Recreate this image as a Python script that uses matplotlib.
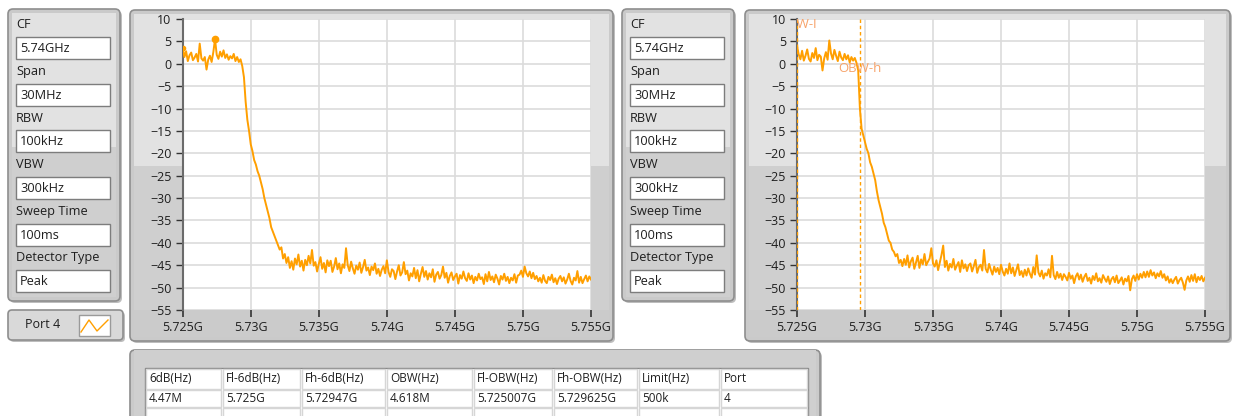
import numpy as np
import matplotlib.pyplot as plt
from matplotlib.patches import FancyBboxPatch, Rectangle

plt.rcParams['font.family'] = ['Open Sans', 'DejaVu Sans']

W, H = 1237, 416

# sweep settings
start_ghz, stop_ghz = 5.725, 5.755
obw_low, obw_high = 5.725007, 5.729625

# trace levels (dBm), one point every 0.125 MHz from 5.725G to 5.755G
port_a = [
    3.6, 1.5, 2.8, 0.6, 1.9, 2.5, 0.8, 1.4, 2.2, 0.5, 4.5, 1.2, 0.7, 1.5, -1.3, 0.9,
    1.8, 0.4, 2.6, 5.5, 2.0, 1.1, 2.7, 1.6, 3.0, 1.3, 2.1, 0.9, 1.7, 1.2, 2.2, 0.6,
    1.5, 0.4, 1.0, -0.5,
    -3.0, -8.5, -12.5, -15.0, -18.0, -19.5, -21.5, -22.5, -24.0, -25.0, -26.5, -28.0,
    -30.0, -31.5, -33.0, -34.5, -36.5, -37.5, -38.5, -39.5, -40.5, -41.5, -41.0, -43.5,
    -42.5, -44.5,
    -43.2, -45.6, -44.1, -46.0, -43.5, -44.8, -42.6, -45.3,
    -44.0, -46.2, -43.8, -45.0, -42.9, -44.6, -41.6, -45.1,
    -44.3, -46.4, -44.7, -43.2, -45.8, -44.5, -46.6, -43.9,
    -45.2, -44.0, -46.5, -45.3, -43.4, -45.9, -44.6, -46.8,
    -44.8, -45.6, -41.2, -45.0, -46.3, -44.2, -45.7, -46.9,
    -45.1, -46.0, -44.4, -46.7, -45.4, -43.8, -46.2, -45.5,
    -47.2, -45.3, -46.1, -44.6, -46.9, -45.8, -47.4, -46.0,
    -45.2, -46.8, -43.9, -46.5, -47.6, -45.9, -46.3, -48.1,
    -46.4, -45.0, -47.3, -46.6, -44.3, -47.0, -46.2, -48.4,
    -46.8, -47.5, -45.6, -47.9, -46.1, -48.6, -46.9, -45.4,
    -47.6, -46.3, -48.2, -46.8, -47.7, -45.9, -48.7, -47.1,
    -46.5, -48.0, -47.2, -45.3, -47.8, -46.7, -48.9, -47.4,
    -46.6, -48.3, -47.5, -46.9, -49.1, -47.2, -48.0, -46.4,
    -47.9, -48.5, -46.8, -48.2, -47.3, -49.0, -47.6, -48.4,
    -46.9, -48.1, -47.7, -49.2, -47.0, -48.6, -46.5, -48.3,
    -47.5, -48.8, -47.1, -48.0, -49.3, -47.4, -48.2, -46.9,
    -48.5, -47.6, -49.0, -47.8, -48.4, -47.0, -48.9, -47.3,
    -47.1, -46.2, -47.6, -45.3, -46.8, -47.5, -46.4, -47.9,
    -46.7, -48.1, -47.4, -48.6, -47.8, -48.9, -47.2, -48.5,
    -49.0, -47.6, -48.3, -47.1, -48.8, -47.9, -49.2, -48.0,
    -47.4, -48.6, -47.7, -49.1, -48.2, -46.9, -48.5, -49.3,
    -47.8, -48.4, -46.3, -48.9, -47.6, -49.0, -48.1, -47.3,
    -48.6, -47.5, -48.2,
]

port_b = [
    4.0, 2.1, 1.0, 2.9, 0.7, 1.8, 3.2, 1.1, 0.5, 2.4, 1.3, 3.5, 0.8, 2.0, 1.6, -1.5,
    1.2, 2.6, 0.9, 5.2, 2.3, 1.0, 3.1, 1.8, 0.6, 2.7, 1.4, 0.8, 2.2, 1.0, 1.9, 0.3,
    1.5, 0.7, 1.3, 0.2,
    -1.5, -10.0, -14.5, -16.0, -17.5, -19.0, -20.0, -22.0, -23.0, -24.5, -26.0, -28.5,
    -30.5, -32.0, -33.5, -35.5, -36.5, -38.0, -39.5, -40.0, -41.5, -42.0, -43.0, -42.5,
    -44.5, -43.8,
    -45.2, -43.6, -44.9, -42.8, -45.5, -44.1, -43.3, -45.8,
    -44.4, -42.9, -45.6, -43.7, -44.8, -42.5, -45.0, -44.2,
    -43.5, -41.2, -44.6, -45.3, -43.9, -46.1, -44.4, -42.7,
    -40.6, -45.4, -44.0, -46.2, -44.7, -45.5, -43.6, -46.0,
    -45.1, -44.3, -46.5, -43.9, -45.7, -44.8, -46.3, -45.0,
    -44.6, -46.4, -45.2, -43.8, -46.7, -45.4, -44.9, -46.2,
    -41.6, -45.8, -46.6, -44.7, -46.0, -47.1, -45.3, -46.5,
    -45.6, -47.0, -44.9, -46.4, -47.3, -45.8, -46.9, -44.6,
    -46.8, -45.5, -47.4, -46.1, -44.8, -47.2, -46.3, -47.6,
    -46.0, -47.3, -45.7, -46.9, -47.8, -45.4, -47.1, -42.8,
    -46.6, -47.5, -46.2, -48.0, -46.8, -47.3, -45.9, -47.7,
    -42.9, -47.2, -48.1, -46.5, -47.8, -46.9, -48.3, -47.0,
    -47.6, -48.4, -46.7, -48.0, -47.3, -49.0, -47.5, -46.8,
    -48.2, -47.1, -48.7, -47.6, -46.9, -48.5, -47.8, -49.1,
    -47.4, -48.3, -46.8, -48.6, -47.9, -48.9, -47.2, -48.0,
    -48.7, -47.5, -49.2, -48.1, -47.6, -48.8, -47.3, -49.0,
    -48.4, -47.7, -49.3, -48.0, -48.6, -47.4, -50.6, -48.1,
    -47.3, -48.5, -47.0, -48.2, -46.9, -47.8, -46.5, -47.7,
    -46.4, -47.6, -46.1, -47.3, -46.6, -47.9, -46.8, -47.5,
    -46.3, -47.8, -47.0, -48.4, -47.5, -48.9, -48.1, -49.0,
    -48.2, -47.6, -49.1, -48.3, -47.8, -48.9, -50.5, -48.4,
    -47.5, -48.7, -47.2, -48.5, -47.0, -48.8, -47.6, -48.3,
    -47.4, -48.6, -47.8,
]

x_ticks = [5.725, 5.73, 5.735, 5.74, 5.745, 5.75, 5.755]
x_labels = ['5.725G', '5.73G', '5.735G', '5.74G', '5.745G', '5.75G', '5.755G']
y_ticks = list(range(-55, 11, 5))

setting_names = ['CF', 'Span', 'RBW', 'VBW', 'Sweep Time', 'Detector Type']
setting_values = ['5.74GHz', '30MHz', '100kHz', '300kHz', '100ms', 'Peak']

table_headers = ['6dB(Hz)', 'Fl-6dB(Hz)', 'Fh-6dB(Hz)', 'OBW(Hz)', 'Fl-OBW(Hz)',
                 'Fh-OBW(Hz)', 'Limit(Hz)', 'Port']
table_values = ['4.47M', '5.725G', '5.72947G', '4.618M', '5.725007G', '5.729625G',
                '500k', '4']

trace_color = '#ff9f00'
text_color = '#1e1e1e'

fig = plt.figure(figsize=(W / 100, H / 100), dpi=100)
fig.patch.set_facecolor('white')

# background canvas in pixel coordinates
bg = fig.add_axes([0, 0, 1, 1], zorder=0)
bg.set_xlim(0, W)
bg.set_ylim(H, 0)
bg.axis('off')


def panel(x0, y0, x1, y1, split):
    bg.add_patch(FancyBboxPatch((x0 + 2, y0 + 2), x1 - x0, y1 - y0,
                                boxstyle='round,pad=0,rounding_size=5',
                                fc='#bdbdbd', ec='none'))
    bg.add_patch(FancyBboxPatch((x0, y0), x1 - x0, y1 - y0,
                                boxstyle='round,pad=0,rounding_size=5',
                                fc='#cacaca', ec='#8e8e8e', lw=1.2))
    bg.add_patch(Rectangle((x0 + 4, y0 + 4), x1 - x0 - 8, split - y0 - 4,
                           fc='#e2e2e2', ec='none'))
    bg.add_patch(Rectangle((x0 + 4, split), x1 - x0 - 8, y1 - split - 4,
                           fc='#cfcfcf', ec='none'))


def settings_box(x0, x1):
    panel(x0, 9, x1, 301, 147)
    label_y = [25, 72, 118, 165, 212, 258]
    for name, val, ly in zip(setting_names, setting_values, label_y):
        bg.text(x0 + 8, ly, name, fontsize=9.2, color=text_color, va='center')
        bg.add_patch(Rectangle((x0 + 8, ly + 12), x1 - x0 - 18, 22,
                               fc='white', ec='#7d7d7d', lw=1))
        bg.text(x0 + 12, ly + 23.5, val, fontsize=9.2, color=text_color, va='center')


def chart(x0, x1, px0, px1, levels):
    panel(x0, 10, x1, 341, 166)
    bg.add_patch(Rectangle((x0 + 4, 310), x1 - x0 - 8, 27, fc='#cbcbcb', ec='none'))
    ax = fig.add_axes([px0 / W, 1 - 310 / H, (px1 - px0) / W, (310 - 19) / H], zorder=2)
    freqs = np.linspace(start_ghz, stop_ghz, len(levels))
    ax.plot(freqs, levels, color=trace_color, lw=1.4, zorder=3)
    ax.set_xlim(start_ghz, stop_ghz)
    ax.set_ylim(-55, 10)
    ax.set_xticks(x_ticks)
    ax.set_xticklabels(x_labels)
    ax.set_yticks(y_ticks)
    ax.grid(True, color='#dcdcdc', lw=1.2)
    ax.set_axisbelow(True)
    for s in ['top', 'right', 'bottom']:
        ax.spines[s].set_visible(False)
    ax.spines['left'].set_color('#6b6b6b')
    ax.spines['left'].set_linewidth(1.5)
    ax.tick_params(axis='y', direction='out', length=5, width=1, color='#333333',
                   labelsize=9, pad=3, labelcolor=text_color)
    ax.tick_params(axis='x', direction='out', length=5, width=1.2, color='#333333',
                   labelsize=9, pad=3, labelcolor=text_color)
    return ax, freqs


settings_box(8, 120)
settings_box(622, 734)

# port legend box
bg.add_patch(FancyBboxPatch((10, 312), 115, 30, boxstyle='round,pad=0,rounding_size=4',
                            fc='#bdbdbd', ec='none'))
bg.add_patch(FancyBboxPatch((8, 310), 115, 30, boxstyle='round,pad=0,rounding_size=4',
                            fc='#d9d9d9', ec='#8e8e8e', lw=1.2))
bg.text(25, 325, 'Port 4', fontsize=9, color=text_color, va='center')
bg.add_patch(Rectangle((79, 315), 31, 21, fc='white', ec='#9a9a9a', lw=1))
bg.plot([81, 89, 97, 108], [332, 320, 331, 320], color=trace_color, lw=1)

# left chart with peak marker
ax1, f1 = chart(130, 613, 182.7, 591, port_a)
pk = int(np.argmax(port_a))
ax1.plot(f1[pk], port_a[pk], 'o', ms=4.5, color=trace_color, zorder=4)
ax1.plot(f1[0], port_a[0], 'o', ms=3, color=trace_color, zorder=4)

# right chart with OBW cursors
ax2, f2 = chart(745, 1230, 797, 1205, port_b)
for fx, name, ly in [(obw_low, 'OBW-l', 8.8), (obw_high, 'OBW-h', -1.0)]:
    ax2.axvline(fx, color=trace_color, lw=1, ls=(0, (2.5, 2)), zorder=4)
    ax2.text(fx, ly, name, color='#f7a36a', fontsize=9.5, ha='center', va='center',
             clip_on=True, zorder=5)

# results table
panel(130, 350, 820, 432, 350)
bg.add_patch(Rectangle((145, 368), 808 - 145, 50, fc='white', ec='#8a8a8a', lw=1))
col_left = [145, 222, 301, 386, 473, 553, 638, 720]
col_right = col_left[1:] + [808]
for xl, xr, hd, val in zip(col_left, col_right, table_headers, table_values):
    for ry0, ry1 in [(369, 389), (390, 407), (408, 418)]:
        bg.add_patch(Rectangle((xl + 1, ry0), xr - xl - 2, ry1 - ry0,
                               fc='white', ec='#d6d6d6', lw=1))
    bg.text(xl + 4, 379, hd, fontsize=8.5, color=text_color, va='center')
    bg.text(xl + 4, 398.5, val, fontsize=8.5, color=text_color, va='center')

fig.savefig('out.png', dpi=100)
